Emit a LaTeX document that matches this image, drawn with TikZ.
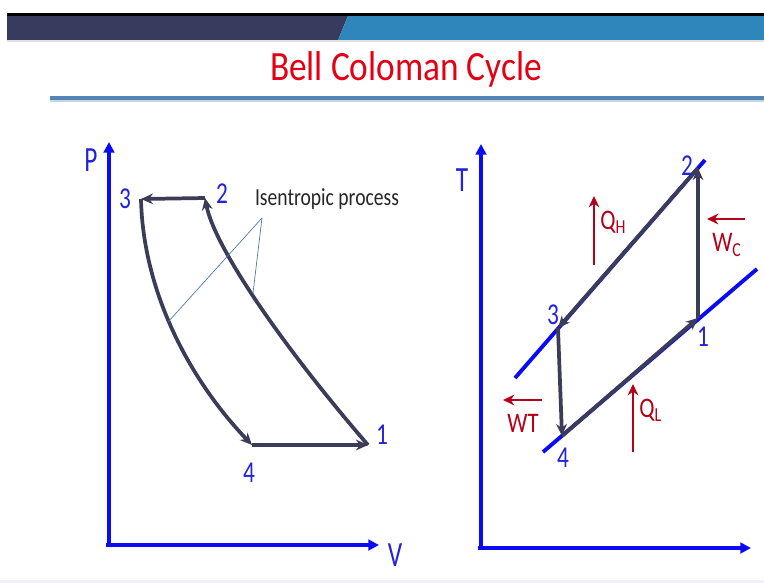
\documentclass[tikz,border=0pt]{standalone}
\usepackage{fontspec}
\setmainfont{Carlito}
\usetikzlibrary{arrows.meta}
\definecolor{navyband}{RGB}{56,58,94}
\definecolor{blueband}{RGB}{46,134,187}
\definecolor{rulecol}{RGB}{85,133,181}
\definecolor{axisblue}{RGB}{10,10,245}
\definecolor{lblblue}{RGB}{35,35,215}
\definecolor{cyc}{RGB}{58,60,88}
\definecolor{titlered}{RGB}{228,0,20}
\definecolor{heatred}{RGB}{180,0,25}
\definecolor{leader}{RGB}{75,115,170}
\newcommand{\vstretch}[2]{\scalebox{1}[#1]{#2}}
\begin{document}
\begin{tikzpicture}[x=0.75pt,y=-0.75pt,
  axis/.style={axisblue,line width=2.9pt,-{Triangle[length=8pt,width=8pt]}},
  cycline/.style={cyc,line width=2.8pt,-{Stealth[length=9pt,width=8pt]}},
  isobar/.style={axisblue,line width=2.9pt},
  heat/.style={heatred,line width=2.1pt,-{Stealth[length=8.5pt,width=8pt]}},
  leaderline/.style={leader,line width=0.5pt},
  ptlbl/.style={text=lblblue,font=\fontsize{17.5}{19}\selectfont,inner sep=0pt},
  axlbl/.style={text=lblblue,font=\fontsize{19}{21}\selectfont,inner sep=0pt},
  redlbl/.style={text=heatred,font=\fontsize{17}{19}\selectfont,inner sep=0pt},
  notelbl/.style={text=black!85,font=\fontsize{14.7}{16}\selectfont,inner sep=0pt}
]
\useasboundingbox (0,0) rectangle (764,583);
\fill[white] (0,0) rectangle (764,583);
% header bands
\fill[black] (7,13) rectangle (764,16);
\fill[navyband] (7,16) -- (348,16) -- (338,40) -- (7,40) -- cycle;
\fill[blueband] (348,16) -- (764,16) -- (764,40) -- (338,40) -- cycle;
\fill[black!12] (7,40) rectangle (764,41.5);
\node[text=titlered,font=\fontsize{26.5}{30}\selectfont,inner sep=0pt,anchor=base] (title) at (406,80) {\vstretch{1.18}{Bell Coloman Cycle}};
\fill[rulecol] (50,95.5) rectangle (764,99.5);
\fill[rulecol!35] (50,99.5) rectangle (764,101.5);
\fill[blue!6] (0,580) rectangle (764,583);

% ---------- P-V diagram ----------
\coordinate (O1) at (109,545);
\coordinate (Ptop) at (109,142);
\coordinate (Vend) at (379,545);
\draw[axis] (O1) -- (Ptop);
\draw[axis] ([xshift=-2pt]O1) -- (Vend);
\node[axlbl] (Plbl) at (91,160) {\vstretch{1.4}{P}};
\node[axlbl] (Vlbl) at (395,555) {\vstretch{1.4}{V}};

\coordinate (A1) at (368,445);
\coordinate (A2) at (205,198);
\coordinate (A3) at (141,199);
\coordinate (A4) at (252,445);
\draw[cycline] (A2) -- (A3);
\draw[cycline] (A3) .. controls (143,290) and (188,378) .. (A4);
\draw[cycline] (A4) -- (A1);
\draw[cycline] (A1) .. controls (290,355) and (215,250) .. (A2);

\node[ptlbl] (l3) at (125,199) {\vstretch{1.3}{3}};
\node[ptlbl] (l2) at (222,194) {\vstretch{1.3}{2}};
\node[ptlbl] (l1) at (382,435) {\vstretch{1.3}{1}};
\node[ptlbl] (l4) at (249,473) {\vstretch{1.3}{4}};

\node[notelbl] (iso) at (327,199) {\vstretch{1.25}{Isentropic process}};
\coordinate (isoFoot) at (262,218);
\coordinate (isoA) at (168,322);
\coordinate (isoB) at (253,293);
\draw[leaderline] (isoFoot) -- (isoA);
\draw[leaderline] (isoFoot) -- (isoB);

% ---------- T-s diagram ----------
\coordinate (O2) at (481,548);
\coordinate (Ttop) at (481,144);
\coordinate (Send) at (751,548);
\draw[axis] (O2) -- (Ttop);
\draw[axis] ([xshift=-2pt]O2) -- (Send);
\node[axlbl] (Tlbl) at (462,180) {\vstretch{1.4}{T}};

\coordinate (HiA) at (515,378);
\coordinate (HiB) at (705,160);
\coordinate (LoA) at (543,452);
\coordinate (LoB) at (757,269);
\draw[isobar] (HiA) -- (HiB);
\draw[isobar] (LoA) -- (LoB);

\coordinate (R1) at (698,318);
\coordinate (R2) at (698,168);
\coordinate (R3) at (558,328);
\coordinate (R4) at (562,436);
\draw[cycline] (R1) -- (R2);
\draw[cycline] (R2) -- (R3);
\draw[cycline] (R3) -- (R4);
\draw[cycline] (R4) -- (R1);

\node[ptlbl] (r2) at (687,166) {\vstretch{1.3}{2}};
\node[ptlbl] (r1) at (703,337) {\vstretch{1.3}{1}};
\node[ptlbl] (r3) at (553,315) {\vstretch{1.3}{3}};
\node[ptlbl] (r4) at (563,458) {\vstretch{1.3}{4}};

% heat and work arrows
\coordinate (QHs) at (594,265);
\coordinate (QHe) at (594,196);
\draw[heat] (QHs) -- (QHe);
\node[redlbl,anchor=west] (QH) at (600,222) {\vstretch{1.25}{Q\textsubscript{H}}};

\coordinate (WCs) at (745,219);
\coordinate (WCe) at (707,219);
\draw[heat] (WCs) -- (WCe);
\node[redlbl,anchor=west] (WC) at (712,245) {\vstretch{1.25}{W\textsubscript{C}}};

\coordinate (WTs) at (542,400);
\coordinate (WTe) at (503,400);
\draw[heat] (WTs) -- (WTe);
\node[redlbl] (WT) at (523,423) {\vstretch{1.25}{WT}};

\coordinate (QLs) at (633,452);
\coordinate (QLe) at (633,384);
\draw[heat] (QLs) -- (QLe);
\node[redlbl,anchor=west] (QL) at (639,410) {\vstretch{1.25}{Q\textsubscript{L}}};
\end{tikzpicture}
\end{document}
